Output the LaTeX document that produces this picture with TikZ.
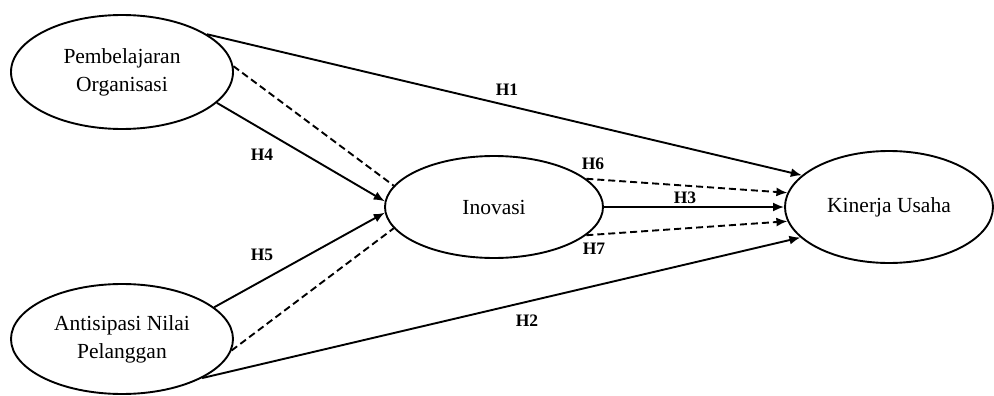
\documentclass[tikz,border=0pt]{standalone}
\usepackage{fontspec}
\setmainfont{Liberation Serif}
\usetikzlibrary{shapes.geometric,arrows.meta}
\tikzset{
  var/.style={ellipse, draw, line width=1.9pt, inner sep=0pt, align=center,
    font=\fontsize{21.5}{28}\selectfont},
  link/.style={line width=1.9pt, -{Latex[length=11pt,width=9pt]}},
  dlink/.style={line width=1.9pt, dash pattern=on 7pt off 4pt, -{Latex[length=11pt,width=9pt]}},
  dplain/.style={line width=1.9pt, dash pattern=on 7pt off 4pt},
  hlab/.style={font=\fontsize{17.5}{19}\selectfont\bfseries, inner sep=0pt}
}
\begin{document}
\begin{tikzpicture}[x=1pt,y=-1pt]
\useasboundingbox (0,0) rectangle (994,396);
\node[var, minimum width=222pt, minimum height=114pt] (po) at (122,72) {Pembelajaran\\Organisasi};
\node[var, minimum width=222pt, minimum height=110pt] (an) at (122,339) {Antisipasi Nilai\\Pelanggan};
\node[var, minimum width=218pt, minimum height=102pt] (ino) at (494,207) {Inovasi};
\node[var, minimum width=208pt, minimum height=112pt] (kin) at (889,207) {Kinerja Usaha};

\draw[link] (po.24) -- (kin.160);
\draw[dplain] (po.3) -- (ino.168);
\draw[link] (po.-18) -- (ino.177);
\draw[link] (an.19) -- (ino.183);
\draw[dplain] (an.-6) -- (ino.192);
\draw[link] (an.-26) -- (kin.199);
\draw[dlink] (ino.17) -- (kin.172);
\draw[link] (ino.0) -- (kin.180);
\draw[dlink] (ino.-17) -- (kin.188);

\node[hlab] (h1) at (507,90) {H1};
\node[hlab] (h4) at (262,155) {H4};
\node[hlab] (h5) at (262,255) {H5};
\node[hlab] (h2) at (527,321) {H2};
\node[hlab] (h6) at (593,164) {H6};
\node[hlab] (h3) at (685,198) {H3};
\node[hlab] (h7) at (594,249) {H7};
\end{tikzpicture}
\end{document}
